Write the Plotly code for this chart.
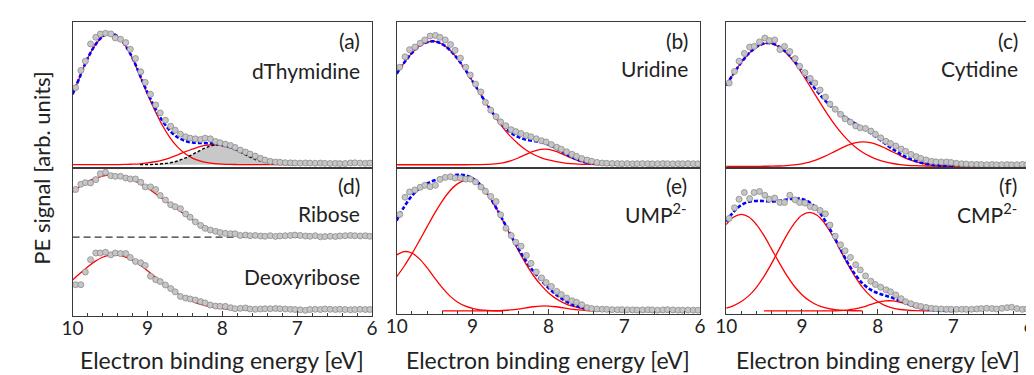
import plotly.graph_objects as go

# ---------------- data ----------------
DATA_E = [9.96, 9.89, 9.83, 9.76, 9.69, 9.63, 9.56, 9.49, 9.43, 9.36, 9.29, 9.23, 9.16, 9.09, 9.03,
          8.96, 8.89, 8.83, 8.76, 8.69, 8.63, 8.56, 8.49, 8.43, 8.36, 8.29, 8.23, 8.16, 8.09, 8.03,
          7.96, 7.89, 7.83, 7.76, 7.69, 7.63, 7.56, 7.49, 7.43, 7.36, 7.29, 7.23, 7.16, 7.09, 7.03,
          6.96, 6.89, 6.83, 6.76, 6.69, 6.63, 6.56, 6.49, 6.43, 6.36, 6.29, 6.23, 6.16, 6.09, 6.03]

A_SIG = [0.58, 0.71, 0.78, 0.91, 0.96, 0.985, 0.99, 0.985, 0.955, 0.945, 0.92, 0.87, 0.80, 0.70, 0.62,
         0.53, 0.45, 0.39, 0.335, 0.29, 0.26, 0.23, 0.21, 0.20, 0.195, 0.19, 0.20, 0.195, 0.175, 0.165,
         0.155, 0.145, 0.13, 0.11, 0.095, 0.08, 0.065, 0.048, 0.035, 0.025, 0.02, 0.018, 0.015, 0.014, 0.013,
         0.012, 0.013, 0.012, 0.011, 0.012, 0.01, 0.009, 0.01, 0.008, 0.009, 0.013, 0.014, 0.012, 0.01, 0.012]
B_SIG = [0.75, 0.83, 0.885, 0.905, 0.935, 0.96, 0.99, 0.995, 0.98, 0.96, 0.925, 0.88, 0.82, 0.75, 0.69,
         0.62, 0.56, 0.48, 0.42, 0.37, 0.33, 0.30, 0.27, 0.255, 0.24, 0.225, 0.215, 0.20, 0.185, 0.175,
         0.155, 0.135, 0.12, 0.10, 0.08, 0.065, 0.048, 0.036, 0.027, 0.018, 0.013, 0.011, 0.01, 0.009, 0.008,
         0.009, 0.007, 0.008, 0.009, 0.008, 0.007, 0.008, 0.009, 0.008, 0.007, 0.008, 0.008, 0.009, 0.008, 0.007]
C_SIG = [0.65, 0.74, 0.82, 0.88, 0.93, 0.935, 0.97, 1.0, 0.98, 0.985, 0.91, 0.935, 0.895, 0.84, 0.78,
         0.73, 0.685, 0.65, 0.595, 0.54, 0.485, 0.445, 0.405, 0.37, 0.345, 0.315, 0.30, 0.295, 0.275, 0.25,
         0.222, 0.195, 0.178, 0.158, 0.135, 0.117, 0.093, 0.076, 0.062, 0.05, 0.039, 0.035, 0.034, 0.034, 0.03,
         0.024, 0.02, 0.018, 0.016, 0.015, 0.014, 0.013, 0.014, 0.012, 0.013, 0.014, 0.012, 0.013, 0.015, 0.014]
D_RIB = [0.36, 0.40, 0.412, 0.41, 0.435, 0.48, 0.49, 0.465, 0.46, 0.46, 0.447, 0.44, 0.44, 0.415, 0.38,
         0.38, 0.36, 0.315, 0.28, 0.245, 0.23, 0.215, 0.175, 0.15, 0.115, 0.088, 0.066, 0.053, 0.043, 0.034,
         0.028, 0.025, 0.025, 0.012, 0.015, 0.01, 0.012, 0.008, 0.006, 0.01, 0.005, 0.008, 0.01, 0.012, 0.015,
         0.012, 0.008, 0.006, 0.01, 0.002, 0.004, 0.006, 0.004, 0.008, 0.01, 0.012, 0.01, 0.008, 0.01, 0.006]
D_DEO = [0.194, 0.194, 0.29, 0.384, 0.434, 0.434, 0.44, 0.42, 0.434, 0.43, 0.43, 0.40, 0.37, 0.36, 0.34,
         0.258, 0.232, 0.218, 0.192, 0.165, 0.14, 0.105, 0.093, 0.086, 0.078, 0.066, 0.056, 0.04, 0.032, 0.03,
         0.03, 0.02, 0.012, 0.015, 0.018, 0.01, 0.008, 0.01, 0.012, 0.012, 0.014, 0.012, 0.01, 0.008, 0.006,
         0.004, 0.0, 0.006, 0.008, 0.006, 0.01, 0.008, 0.006, 0.008, 0.006, 0.004, 0.006, 0.008, 0.006, 0.006]
E_SIG = [0.73, 0.86, 0.90, 0.915, 0.935, 0.95, 0.94, 0.95, 0.995, 1.01, 1.015, 1.005, 1.005, 0.997, 0.997,
         0.975, 0.937, 0.905, 0.866, 0.828, 0.727, 0.626, 0.57, 0.52, 0.49, 0.42, 0.36, 0.295, 0.25, 0.215,
         0.185, 0.148, 0.124, 0.098, 0.077, 0.065, 0.047, 0.025, 0.018, 0.015, 0.013, 0.012, 0.01, 0.009, 0.01,
         0.009, 0.008, 0.007, 0.008, 0.009, 0.008, 0.006, 0.008, 0.01, 0.008, 0.006, 0.006, 0.007, 0.006, 0.006]
F_SIG = [0.70, 0.78, 0.845, 0.896, 0.85, 0.896, 0.904, 0.875, 0.845, 0.854, 0.82, 0.82, 0.875, 0.84, 0.82,
         0.816, 0.79, 0.78, 0.76, 0.735, 0.65, 0.565, 0.50, 0.455, 0.405, 0.35, 0.31, 0.265, 0.225, 0.20,
         0.18, 0.16, 0.145, 0.121, 0.093, 0.07, 0.055, 0.042, 0.034, 0.027, 0.02, 0.017, 0.015, 0.013, 0.013,
         0.013, 0.013, 0.012, 0.013, 0.015, 0.018, 0.02, 0.018, 0.015, 0.02, 0.025, 0.028, 0.018, 0.012, 0.015]

# fit components, sampled on FIT_E (None = not drawn)
FIT_E = [10.0, 9.9, 9.8, 9.7, 9.6, 9.5, 9.4, 9.3, 9.2, 9.1, 9.0, 8.9, 8.8, 8.7, 8.6, 8.5, 8.4, 8.3, 8.2, 8.1,
         8.0, 7.9, 7.8, 7.7, 7.6, 7.5, 7.4, 7.3, 7.2, 7.1, 7.0, 6.9, 6.8, 6.7, 6.6, 6.5, 6.4, 6.3, 6.2, 6.1, 6.0]

A_FIT1 = [0.53, 0.667, 0.80, 0.90, 0.966, 0.99, 0.966, 0.90, 0.80, 0.667, 0.53, 0.407, 0.295, 0.204, 0.134,
          0.084, 0.05, 0.028, 0.015, 0.008, 0.004, 0.002, 0.001, 0, 0, 0, 0, 0, 0, 0, 0] + [None] * 10
A_FIT2 = [0, 0, 0, 0, 0, 0.0004, 0.0008, 0.0017, 0.004, 0.0066, 0.013, 0.022, 0.035, 0.052, 0.073, 0.096,
          0.117, 0.136, 0.147, 0.15, 0.143, 0.129, 0.109, 0.086, 0.064, 0.045, 0.030, 0.018, 0.011, 0.006,
          0.003] + [None] * 10
A_DIFF = [None] * 9 + [0.0003, 0.001, 0.0027, 0.0066, 0.014, 0.028, 0.049, 0.076, 0.106, 0.132, 0.148, 0.148,
                       0.132, 0.106, 0.076, 0.049, 0.028, 0.014, 0.0066, 0.0027, 0.001] + [None] * 11

B_FIT1 = [0.70, 0.786, 0.859, 0.913, 0.943, 0.949, 0.928, 0.883, 0.817, 0.735, 0.643, 0.547, 0.453, 0.365,
          0.286, 0.218, 0.162, 0.116, 0.081, 0.055, 0.037, 0.024, 0.015, 0.009, 0.005, 0.003, 0.002, 0.001,
          0, 0, 0] + [None] * 10
B_FIT2 = [0] * 10 + [0.0002, 0.0008, 0.0025, 0.0067, 0.015, 0.030, 0.052, 0.078, 0.103, 0.118, 0.118, 0.103,
                     0.078, 0.052, 0.030, 0.015, 0.0067, 0.0025, 0.0008, 0.0002, 0] + [None] * 10

C_FIT1 = [0.63, 0.725, 0.81, 0.88, 0.93, 0.957, 0.957, 0.93, 0.88, 0.81, 0.725, 0.63, 0.534, 0.44, 0.353,
          0.275, 0.208, 0.153, 0.11, 0.077, 0.052, 0.034, 0.022, 0.014, 0.008, 0.005, 0.003, 0.002, 0.001,
          0, 0, 0, 0, 0, 0] + [None] * 6
C_FIT2 = [0, 0, 0, 0.0001, 0.0002, 0.0005, 0.0012, 0.0027, 0.0056, 0.011, 0.020, 0.033, 0.052, 0.077, 0.106,
          0.136, 0.163, 0.182, 0.19, 0.185, 0.168, 0.142, 0.112, 0.083, 0.057, 0.037, 0.022, 0.012, 0.0064,
          0.003, 0.0014, 0.0006, 0.0002, 0, 0] + [None] * 6

D_RIB_FIT = [0.34, 0.385, 0.42, 0.445, 0.462, 0.47, 0.468, 0.455, 0.432, 0.405, 0.372, 0.332, 0.29, 0.25,
             0.21, 0.17, 0.13, 0.097, 0.07, 0.048, 0.032, 0.02, 0.012, 0.006] + [None] * 17
D_DEO_FIT = [0.229, 0.28, 0.329, 0.371, 0.402, 0.418, 0.418, 0.405, 0.379, 0.343, 0.30, 0.255, 0.209, 0.166,
             0.127, 0.095, 0.068, 0.047, 0.032, 0.021, 0.013, 0.008, 0.005, 0.003, 0.002, 0.001,
             0, 0, 0, 0, 0, 0, 0] + [None] * 8

E_FIT_MAIN = [0.259, 0.34, 0.432, 0.532, 0.636, 0.738, 0.831, 0.907, 0.961, 0.988, 0.984, 0.946, 0.879,
              0.789, 0.683, 0.571, 0.461, 0.36, 0.27, 0.197, 0.138, 0.093, 0.061, 0.038, 0.024, 0.014,
              0.008, 0.0044, 0.0023, 0.0012, 0.0006] + [None] * 10
E_FIT_HIGH = [0.424, 0.449, 0.438, 0.394, 0.327, 0.25, 0.176, 0.114, 0.068, 0.038, 0.019, 0.009, 0.004,
              0.0015, 0.0005] + [None] * 26
E_FIT_LOW = [None] * 6 + [0, 0, 0, 0, 0, 0, 0.0004, 0.0013, 0.0034, 0.0075, 0.0143, 0.023, 0.0317, 0.0372,
                          0.0372, 0.0317, 0.023, 0.0143, 0.0075, 0.0034, 0.0013, 0.0004, 0.0001, 0, 0] + [None] * 10

F_FIT_HIGH = [0.653, 0.71, 0.73, 0.71, 0.653, 0.569, 0.468, 0.365, 0.269, 0.187, 0.123, 0.077, 0.045, 0.025,
              0.013, 0.0067, 0.003, 0.0014, 0.0006] + [None] * 22
F_FIT_MAIN = [0.022, 0.041, 0.071, 0.116, 0.179, 0.262, 0.36, 0.468, 0.574, 0.663, 0.724, 0.745, 0.724, 0.663,
              0.574, 0.468, 0.36, 0.262, 0.179, 0.116, 0.071, 0.041, 0.022, 0.011, 0.0055, 0.0025, 0.001,
              0.0004] + [None] * 13
F_FIT_LOW = [None] * 5 + [0, 0, 0, 0, 0, 0, 0, 0, 0.0002, 0.0009, 0.0027, 0.007, 0.0154, 0.029, 0.047, 0.065,
                          0.076, 0.076, 0.065, 0.047, 0.029, 0.0154, 0.007, 0.0027, 0.0009, 0.0003, 0, 0, 0] + [None] * 7

RIB_OFFSET = 0.555
X_TICKS = [10, 9, 8, 7, 6]

# ---------------- layout geometry (pixels) ----------------
W, H = 1034, 375
COLS = [(54.5, 359.0), (384.0, 692.5), (719.0, 1027.0)]
BOTTOM = [308.0, 306.0, 306.0]
TOP_ROW = (14.0, 160.0)
Y_RANGES = [(-0.025, 1.075), (-0.025, 1.098), (-0.013, 1.125),
            (-0.043, 1.078), (-0.023, 1.081), (-0.023, 1.081)]

RED = '#ff0000'
BLUE = '#0000ff'
TXT = '#222222'
AX = '#3a3a3a'
FONT = 'Lato'

fig = go.Figure()


def nz(v):
    return 0.0 if v is None else v


def add_red(k, comp, offset=0.0):
    ys = [None if v is None else v + offset for v in comp]
    fig.add_trace(go.Scatter(x=FIT_E, y=ys, mode='lines', line=dict(color=RED, width=1.3, shape='spline'),
                             xaxis='x%d' % k, yaxis='y%d' % k, connectgaps=False, hoverinfo='skip'))


def add_sum(k, comps, n_end):
    ys = [sum(nz(c[i]) for c in comps) for i in range(n_end + 1)]
    fig.add_trace(go.Scatter(x=FIT_E[:n_end + 1], y=ys, mode='lines',
                             line=dict(color=BLUE, width=2.6, dash='4px,2px', shape='spline'),
                             xaxis='x%d' % k, yaxis='y%d' % k, hoverinfo='skip'))


def add_pts(k, vals, offset=0.0):
    fig.add_trace(go.Scatter(x=DATA_E, y=[v + offset for v in vals], mode='markers',
                             marker=dict(size=6, color='#c6c6c6', line=dict(width=0.8, color='#8c8c8c')),
                             xaxis='x%d' % k, yaxis='y%d' % k, hoverinfo='skip'))


# panel (a)
fig.add_trace(go.Scatter(x=FIT_E, y=A_DIFF, mode='lines', fill='tozeroy', fillcolor='#c8c8c8',
                         line=dict(width=0), xaxis='x1', yaxis='y1', hoverinfo='skip'))
add_red(1, A_FIT1)
add_red(1, A_FIT2)
add_sum(1, [A_FIT1, A_FIT2], 30)
fig.add_trace(go.Scatter(x=FIT_E, y=A_DIFF, mode='lines', line=dict(color='black', width=1.4, dash='3px,2px',
                         shape='spline'), xaxis='x1', yaxis='y1', hoverinfo='skip'))
add_pts(1, A_SIG)

# panel (b)
add_red(2, B_FIT1)
add_red(2, B_FIT2)
add_sum(2, [B_FIT1, B_FIT2], 30)
add_pts(2, B_SIG)

# panel (c)
add_red(3, C_FIT1)
add_red(3, C_FIT2)
add_sum(3, [C_FIT1, C_FIT2], 30)
add_pts(3, C_SIG)

# panel (d)
fig.add_trace(go.Scatter(x=[FIT_E[0], FIT_E[-1]], y=[RIB_OFFSET, RIB_OFFSET], mode='lines',
                         line=dict(color='#333333', width=1.3, dash='7px,4px'),
                         xaxis='x4', yaxis='y4', hoverinfo='skip'))
add_red(4, D_RIB_FIT, RIB_OFFSET)
add_red(4, D_DEO_FIT)
add_pts(4, D_RIB, RIB_OFFSET)
add_pts(4, D_DEO)

# panel (e)
add_red(5, E_FIT_MAIN)
add_red(5, E_FIT_HIGH)
add_red(5, E_FIT_LOW)
add_sum(5, [E_FIT_MAIN, E_FIT_HIGH, E_FIT_LOW], 38)
add_pts(5, E_SIG)

# panel (f)
add_red(6, F_FIT_HIGH)
add_red(6, F_FIT_MAIN)
add_red(6, F_FIT_LOW)
add_sum(6, [F_FIT_HIGH, F_FIT_MAIN, F_FIT_LOW], 30)
add_pts(6, F_SIG)

layout = dict(width=W, height=H, margin=dict(l=0, r=0, t=0, b=0), showlegend=False,
              paper_bgcolor='white', plot_bgcolor='white', font=dict(family=FONT, color=TXT))

for k in range(1, 7):
    col = (k - 1) % 3
    row = (k - 1) // 3
    x0, x1 = COLS[col]
    if row == 0:
        ytop, ybot = TOP_ROW
    else:
        ytop, ybot = TOP_ROW[1], BOTTOM[col]
    xa = dict(domain=[x0 / W, x1 / W], anchor='y%d' % k, range=[10, 6], showline=True, mirror=True,
              linecolor=AX, linewidth=1.3, showgrid=False, zeroline=False, fixedrange=True)
    if row == 1:
        xa.update(ticks='inside', ticklen=5, tickwidth=1.2, tickcolor=AX, tickvals=X_TICKS,
                  ticktext=[str(t) for t in X_TICKS], showticklabels=True,
                  tickfont=dict(size=19, family=FONT, color=TXT), ticklabelstandoff=-5,
                  minor=dict(dtick=0.2, tick0=6, ticks='inside', ticklen=3, tickwidth=1, tickcolor=AX))
    else:
        xa.update(ticks='', showticklabels=False)
    ya = dict(domain=[1 - ybot / H, 1 - ytop / H], anchor='x%d' % k, range=list(Y_RANGES[k - 1]),
              showline=True, mirror=True, linecolor=AX, linewidth=1.3, showgrid=False, zeroline=False,
              ticks='', showticklabels=False, fixedrange=True)
    layout['xaxis' if k == 1 else 'xaxis%d' % k] = xa
    layout['yaxis' if k == 1 else 'yaxis%d' % k] = ya

fig.update_layout(**layout)

ann = []
LABELS = [
    (349, 32, '(a)'), (349, 62, 'dThymidine'),
    (682, 32, '(b)'), (682, 61, 'Uridine'),
    (1018, 32, '(c)'), (1018, 61, 'Cytidine'),
    (349, 177, '(d)'), (349, 205, 'Ribose'), (349, 268, 'Deoxyribose'),
    (681, 177, '(e)'), (681, 205, 'UMP<sup>2-</sup>'),
    (1017, 177, '(f)'), (1017, 205, 'CMP<sup>2-</sup>'),
]
for xp, yp, t in LABELS:
    ann.append(dict(x=xp / W, y=1 - yp / H, xref='paper', yref='paper', text=t, showarrow=False,
                    xanchor='right', yanchor='middle', font=dict(size=21, family=FONT, color=TXT)))
for x0, x1 in COLS:
    ann.append(dict(x=(x0 + x1) / 2 / W, y=1 - 352 / H, xref='paper', yref='paper',
                    text='Electron binding energy [eV]', showarrow=False, xanchor='center', yanchor='middle',
                    font=dict(size=23, family=FONT, color=TXT)))
ann.append(dict(x=22 / W, y=1 - 160 / H, xref='paper', yref='paper', text='PE signal [arb. units]',
                showarrow=False, textangle=-90, xanchor='center', yanchor='middle',
                font=dict(size=22, family=FONT, color=TXT)))
fig.update_layout(annotations=ann)

fig.write_html('out.html')
